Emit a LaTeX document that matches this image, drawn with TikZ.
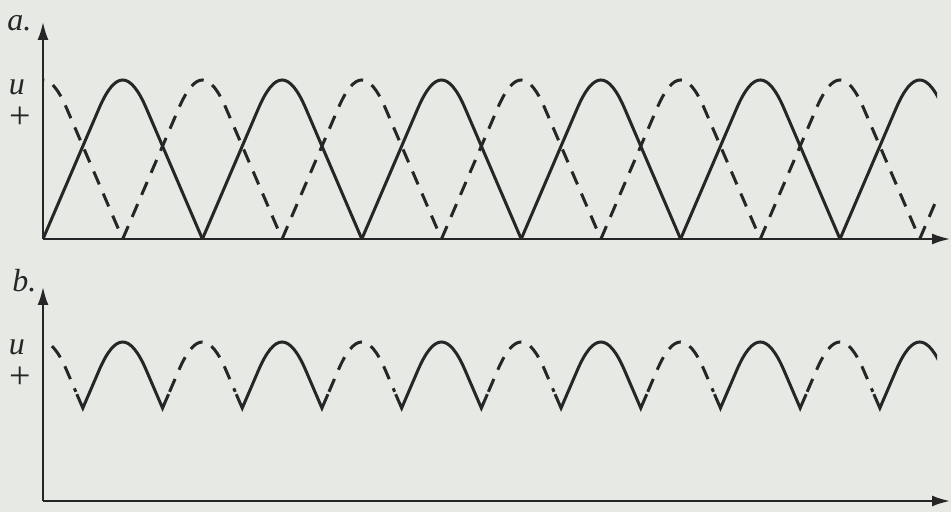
\documentclass[tikz,border=0pt]{standalone}
\usepackage{fontspec}
\setmainfont{Liberation Serif}
\usetikzlibrary{arrows.meta,positioning}
\definecolor{paper}{RGB}{231,233,229}
\definecolor{ink}{RGB}{38,38,38}
% one hump of the rectified wave, local units (px)
\newcommand{\fullhump}{(0,0) -- (56,130.5) .. controls (72.3,168.5) and (87.1,168.5) .. (103.4,130.5) -- (159.4,0)}
\newcommand{\solidcap}{(33.85,106.8) -- (39.85,92.9) -- (56,130.5) .. controls (72.3,168.5) and (87.1,168.5) .. (103.4,130.5) -- (119.55,92.9) -- (125.55,106.8)}
\newcommand{\dashcap}{(46.85,109.2) -- (56,130.5) .. controls (72.3,168.5) and (87.1,168.5) .. (103.4,130.5) -- (112.55,109.2)}

\begin{document}
\begin{tikzpicture}[x=0.5pt, y=0.5pt,
    wave/.style={draw=ink, line width=1.5pt},
    dashwave/.style={wave, dash pattern=on 7pt off 5pt},
    axisline/.style={draw=ink, line width=1pt, -{Latex[length=9pt,width=5.5pt]}},
    axislabel/.style={font=\fontsize{16}{19}\selectfont\itshape, text=ink, inner sep=0pt},
    signlabel/.style={font=\fontsize{19}{22}\selectfont, text=ink, inner sep=0pt}]
        \fill[paper] (0,0) rectangle (951,512);
        \useasboundingbox (0,0) rectangle (951,512);

        % plot a
        \coordinate (originA) at (43,273);
        \coordinate (topA) at (43,490);
        \coordinate (endA) at (950,273);
        \node[axislabel, anchor=base west] (tagA) at (7,481) {a.};
        \node[axislabel, anchor=base] (unitA) at (17,417) {u};
        \node[signlabel] (signA) at (20,394) {+};
        \begin{scope}
          \clip (43,0) rectangle (937,512);
          \foreach \k in {0,...,5} \draw[wave, shift={(43+159.4*\k,273)}] \fullhump;
          \foreach \k in {0,...,6} \draw[dashwave, shift={(-36.7+159.4*\k,273)}] \fullhump;
        \end{scope}
        \draw[axisline] (originA) -- (topA);
        \draw[axisline] (originA) -- (endA);

        % plot b
        \coordinate (originB) at (43,11);
        \coordinate (topB) at (43,225);
        \coordinate (endB) at (950,11);
        \node[axislabel, anchor=base west] (tagB) at (12,220) {b.};
        \node[axislabel, anchor=base] (unitB) at (17,157) {u};
        \node[signlabel] (signB) at (20,134) {+};
        \begin{scope}
          \clip (43,0) rectangle (937,512);
          \foreach \k in {0,...,5} \draw[wave, shift={(43+159.4*\k,11)}] \solidcap;
          \foreach \k in {0,...,5} \draw[dashwave, shift={(-36.7+159.4*\k,11)}] \dashcap;
        \end{scope}
        \draw[axisline] (originB) -- (topB);
        \draw[axisline] (originB) -- (endB);
\end{tikzpicture}
\end{document}
